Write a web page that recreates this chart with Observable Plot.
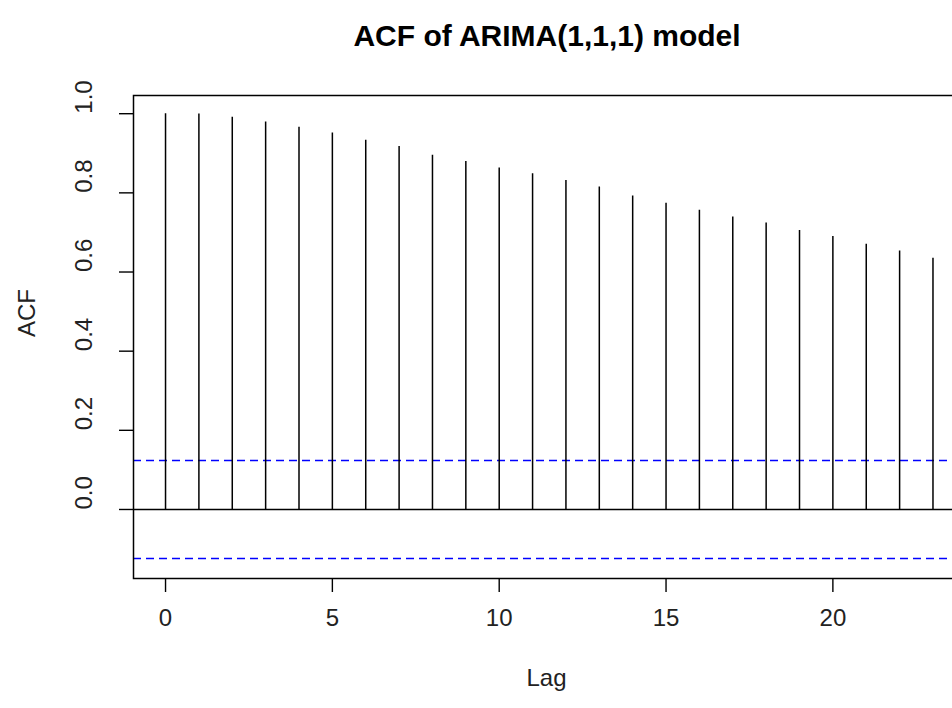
<!DOCTYPE html>
<html>
<head>
<meta charset="utf-8">
<script src="https://cdn.jsdelivr.net/npm/d3@7"></script>
<script src="https://cdn.jsdelivr.net/npm/@observablehq/plot@0.6"></script>
<style>
  body { margin: 0; background: #fff; }
  #chart svg { display: block; }
</style>
</head>
<body>
<div id="chart"></div>
<script>
// ---- data ----
const lags = [0, 1, 2, 3, 4, 5, 6, 7, 8, 9, 10, 11, 12, 13, 14, 15, 16, 17, 18, 19, 20, 21, 22, 23];
const acfValues = [1.000, 0.999, 0.991, 0.979, 0.966, 0.951, 0.933, 0.917, 0.895, 0.879, 0.863, 0.848,
                   0.831, 0.815, 0.792, 0.774, 0.756, 0.739, 0.724, 0.705, 0.690, 0.670, 0.653, 0.635];
const ciBound = 0.124;
const xTicks = [0, 5, 10, 15, 20];
const xTickLabels = ["0", "5", "10", "15", "20"];
const yTicks = [0, 0.2, 0.4, 0.6, 0.8, 1.0];
const yTickLabels = ["0.0", "0.2", "0.4", "0.6", "0.8", "1.0"];
const titleText = "ACF of ARIMA(1,1,1) model";
const xLabel = "Lag";
const yLabel = "ACF";

const data = lags.map((lag, i) => ({lag, acf: acfValues[i]}));
const font = "'Liberation Sans', Arial, Helvetica, sans-serif";
const tickFont = 24;

const chart = Plot.plot({
  width: 952,
  height: 708,
  marginTop: 95,
  marginBottom: 130,
  marginLeft: 133,
  marginRight: 0,
  style: {fontFamily: font, background: "white", color: "black", overflow: "hidden"},
  x: {domain: [-0.96, 23.585], label: null},
  y: {domain: [-0.1744, 1.046], label: null},
  marks: [
    Plot.ruleY([ciBound, -ciBound], {y: d => d, stroke: "#0000ff", strokeWidth: 1.5, strokeDasharray: "8,5"}),
    Plot.ruleY([0], {y: d => d, stroke: "black", strokeWidth: 1.4}),
    Plot.ruleX(data, {x: "lag", y1: 0, y2: "acf", stroke: "black", strokeWidth: 1.5}),
    Plot.frame({stroke: "black", strokeWidth: 1.5, insetRight: -6}),
    Plot.axisX({ticks: xTicks, tickSize: 14, tickFormat: () => "", label: null, strokeWidth: 1.4}),
    Plot.axisY({ticks: yTicks, tickSize: 14, tickFormat: () => "", label: null, strokeWidth: 1.4}),
    Plot.text(xTicks, {x: d => d, text: (d, i) => xTickLabels[i], frameAnchor: "bottom", dy: 47,
      fontSize: tickFont, fill: "#222"}),
    Plot.text(yTicks, {y: d => d, text: (d, i) => yTickLabels[i], frameAnchor: "left", dx: -49,
      rotate: -90, fontSize: tickFont, fill: "#222"}),
    Plot.text([xLabel], {text: d => d, frameAnchor: "bottom", dy: 107, dx: 3.5, fontSize: tickFont, fill: "#222"}),
    Plot.text([yLabel], {text: d => d, frameAnchor: "left", dx: -106, rotate: -90, fontSize: tickFont, fill: "#222"}),
    Plot.text([titleText], {text: d => d, frameAnchor: "top", dy: -71, dx: 4, fontSize: 30,
      fontWeight: "bold", fill: "black"})
  ]
});

document.getElementById("chart").appendChild(chart);
</script>
</body>
</html>
